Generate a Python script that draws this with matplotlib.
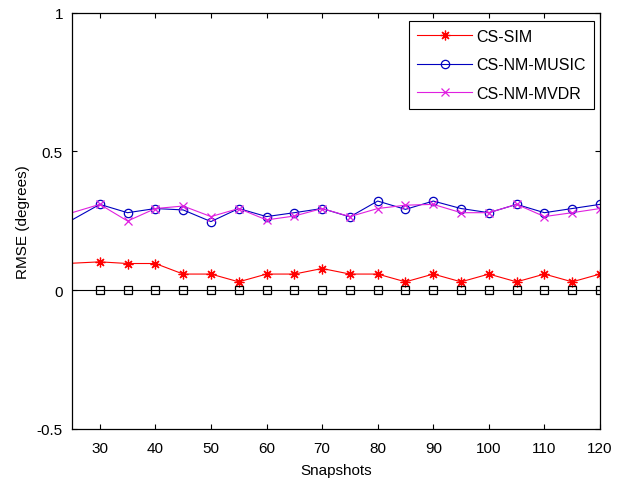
import matplotlib
matplotlib.use("Agg")
import matplotlib.pyplot as plt

plt.rcParams['font.family'] = ['Liberation Sans', 'DejaVu Sans']

snapshots = [20, 30, 35, 40, 45, 50, 55, 60, 65, 70, 75, 80, 85, 90, 95, 100, 105, 110, 115, 120]
cs_sim = [0.092, 0.102, 0.096, 0.096, 0.058, 0.058, 0.030, 0.058, 0.058, 0.078,
          0.058, 0.058, 0.030, 0.058, 0.030, 0.058, 0.030, 0.058, 0.030, 0.058]
cs_nm_music = [0.197, 0.309, 0.279, 0.294, 0.289, 0.247, 0.294, 0.265, 0.279, 0.294,
               0.264, 0.321, 0.291, 0.321, 0.294, 0.279, 0.309, 0.279, 0.294, 0.309]
cs_nm_mvdr = [0.249, 0.309, 0.249, 0.294, 0.303, 0.265, 0.294, 0.253, 0.267, 0.294,
              0.265, 0.294, 0.306, 0.309, 0.279, 0.279, 0.309, 0.265, 0.279, 0.294]
crb = [0.0] * 20

xticks = [30, 40, 50, 60, 70, 80, 90, 100, 110, 120]
yticks = [-0.5, 0, 0.5, 1]
ytick_labels = ['-0.5', '0', '0.5', '1']

fig = plt.figure(figsize=(6.17, 4.85), dpi=100)
L, R, T, B = 72, 600, 13.5, 430
W, H = 617, 485
ax = fig.add_axes([L / W, (H - B) / H, (R - L) / W, (B - T) / H])

lw = 0.8
ax.plot(snapshots, cs_sim, color='red', marker=(8, 2, 0), markersize=7, markeredgewidth=0.9,
        linewidth=lw, label='CS-SIM')
ax.plot(snapshots, cs_nm_music, color='#0000c0', marker='o', markersize=6, markerfacecolor='none',
        markeredgewidth=0.9, linewidth=lw, label='CS-NM-MUSIC')
ax.plot(snapshots, cs_nm_mvdr, color='#e020e0', marker='x', markersize=6, markeredgewidth=0.9,
        linewidth=lw, label='CS-NM-MVDR')
ax.plot(snapshots, crb, color='black', marker='s', markersize=6, markerfacecolor='none',
        markeredgewidth=0.9, linewidth=lw, label='_nolegend_')

ax.set_xlim(25, 120)
ax.set_ylim(-0.5, 1)
ax.set_xticks(xticks)
ax.set_yticks(yticks)
ax.set_yticklabels(ytick_labels)
ax.tick_params(axis='both', direction='in', top=True, right=True, labelsize=11,
               length=3.6, width=0.8)
ax.tick_params(axis='x', pad=8.5)
ax.tick_params(axis='y', pad=6.5)
ax.set_xlabel('Snapshots', fontsize=11)
ax.set_ylabel('RMSE (degrees)', fontsize=11)
ax.xaxis.set_label_coords(0.5, -(464 - B) / (B - T))
ax.yaxis.set_label_coords(-(L - 30) / (R - L), 0.5)
for s in ax.spines.values():
    s.set_linewidth(0.9)

leg = ax.legend(loc='upper right', fontsize=11.5, fancybox=False, framealpha=1,
                edgecolor='black', handlelength=3.4, handletextpad=0.3, borderpad=0.5,
                labelspacing=0.85, borderaxespad=0,
                bbox_to_anchor=((594 - L) / (R - L), (B - 21.7) / (B - T)))
leg.get_frame().set_linewidth(0.8)

fig.savefig('out.png', dpi=100)
